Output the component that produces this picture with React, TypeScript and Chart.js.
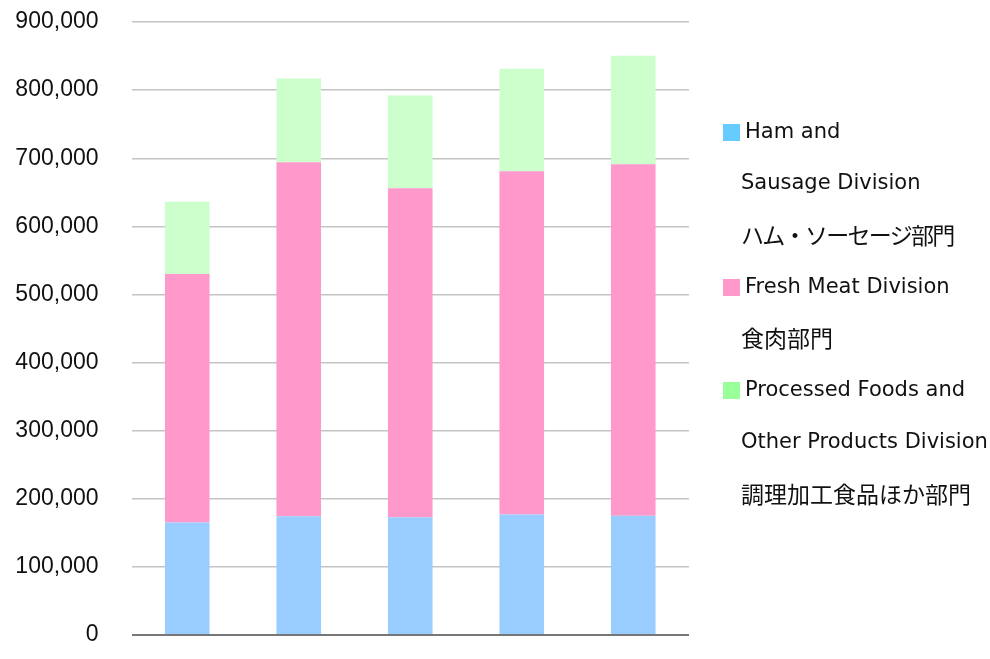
import React, { useEffect, useRef } from "react";
import { Chart, registerables } from "chart.js";

Chart.register(...registerables);

const categories = ["1", "2", "3", "4", "5"];
const hamSausage = [165000, 174500, 173000, 177000, 175000];
const freshMeat = [365000, 519500, 483000, 504000, 516000];
const processedFoods = [106000, 123000, 136000, 150500, 159600];
const yTicks = [0, 100000, 200000, 300000, 400000, 500000, 600000, 700000, 800000, 900000];

const seriesLegend = [
  { lines: ["Ham and", "Sausage Division", "ハム・ソーセージ部門"], swatch: "#66ccff" },
  { lines: ["Fresh Meat Division", "食肉部門"], swatch: "#ff99cc" },
  { lines: ["Processed Foods and", "Other Products Division", "調理加工食品ほか部門"], swatch: "#99ff99" },
];

const barColors = ["#99ccff", "#ff99cc", "#ccffcc"];

const isJP = (s: string) => /[\u3000-\u9fff]/.test(s);

export default function App() {
  const ref = useRef<HTMLCanvasElement | null>(null);

  useEffect(() => {
    if (!ref.current) return;
    const chart = new Chart(ref.current, {
      type: "bar",
      data: {
        labels: categories,
        datasets: [
          { label: "Ham and Sausage Division", data: hamSausage, backgroundColor: barColors[0], borderWidth: 0 },
          { label: "Fresh Meat Division", data: freshMeat, backgroundColor: barColors[1], borderWidth: 0 },
          { label: "Processed Foods and Other Products Division", data: processedFoods, backgroundColor: barColors[2], borderWidth: 0 },
        ],
      },
      options: {
        animation: false,
        responsive: true,
        maintainAspectRatio: false,
        layout: { padding: { left: 0, top: 22, right: 301, bottom: 24 } },
        datasets: { bar: { categoryPercentage: 1, barPercentage: 0.4 } },
        plugins: { legend: { display: false }, tooltip: { enabled: false } },
        scales: {
          x: { stacked: true, display: false },
          y: {
            stacked: true,
            min: 0,
            max: 900000,
            afterBuildTicks: (s: any) => {
              s.ticks = yTicks.map((v) => ({ value: v }));
            },
            afterFit: (s: any) => {
              s.width = 131.5;
            },
            border: { display: false },
            grid: {
              drawTicks: true,
              tickLength: 33,
              tickColor: "rgba(0,0,0,0)",
              color: (c: any) => (c.tick && c.tick.value === 0 ? "#777777" : "#c4c4c4"),
              lineWidth: (c: any) => (c.tick && c.tick.value === 0 ? 2 : 1.4),
            },
            ticks: {
              padding: 0,
              color: "#111111",
              font: { family: "'Liberation Sans', Arial, sans-serif", size: 23 },
              callback: (v: any) => Number(v).toLocaleString("en-US"),
            },
          },
        },
      },
    });
    return () => chart.destroy();
  }, []);

  const lineH = 51.7;
  let row = 0;
  const legendRows: React.ReactNode[] = [];
  seriesLegend.forEach((item, i) => {
    item.lines.forEach((ln, j) => {
      const top = 105.6 + row * lineH;
      const jp = isJP(ln);
      legendRows.push(
        <div
          key={`${i}-${j}`}
          style={{
            position: "absolute",
            left: j === 0 ? 745 : 741,
            top,
            height: lineH,
            lineHeight: `${lineH}px`,
            whiteSpace: "nowrap",
            color: "#111111",
            fontFamily: jp ? "'Noto Sans CJK JP', sans-serif" : "'DejaVu Sans', sans-serif",
            fontSize: jp ? 23 : 21,
            letterSpacing: jp && ln.includes("ハム") ? "-1.7px" : "0px",
          }}
        >
          {ln}
        </div>
      );
      if (j === 0) {
        legendRows.push(
          <div
            key={`sw-${i}`}
            style={{
              position: "absolute",
              left: 723,
              top: top + 18,
              width: 17,
              height: 17,
              background: item.swatch,
            }}
          />
        );
      }
      row++;
    });
  });

  return (
    <div style={{ position: "fixed", left: 0, top: 0, width: 990, height: 659, background: "#ffffff" }}>
      <div style={{ position: "absolute", left: 0, top: 0, width: 990, height: 659 }}>
        <canvas ref={ref} />
      </div>
      {legendRows}
    </div>
  );
}
